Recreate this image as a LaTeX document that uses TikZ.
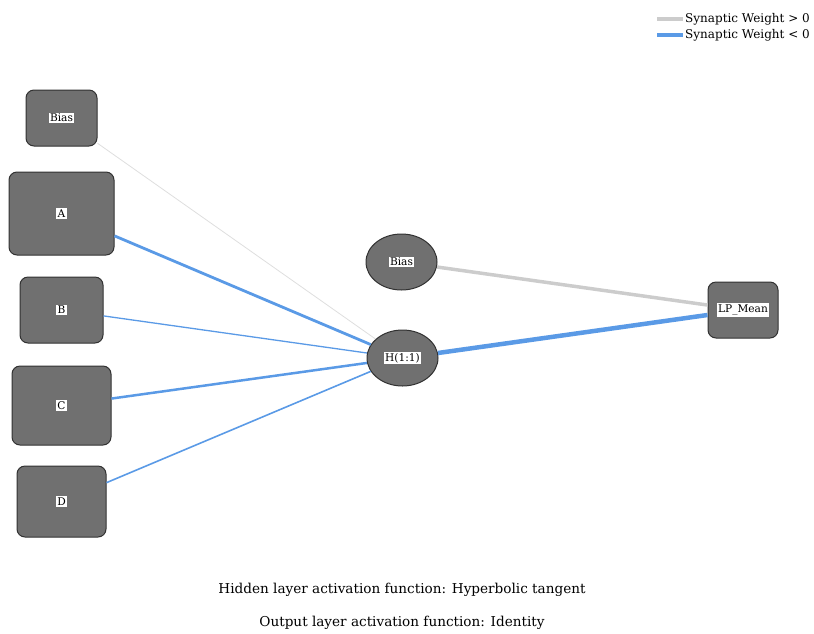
\documentclass[tikz,border=0pt]{standalone}
\usepackage{fontspec}
\setmainfont{DejaVu Serif}
\usetikzlibrary{shapes.geometric}
\definecolor{nodefill}{RGB}{112,112,112}
\definecolor{nodeedge}{RGB}{50,50,50}
\definecolor{posw}{RGB}{204,204,204}
\definecolor{negw}{RGB}{90,154,230}
\definecolor{faint}{RGB}{222,222,222}
\tikzset{
  x=1pt,y=-1pt,
  inbox/.style={draw=nodeedge,line width=1pt,fill=nodefill,rounded corners=8pt,inner sep=0pt},
  hidell/.style={draw=nodeedge,line width=1pt,fill=nodefill,ellipse,inner sep=0pt,minimum width=71pt,minimum height=56pt},
  lab/.style={fill=white,inner sep=1.5pt,font=\fontsize{10.6}{11}\selectfont},
  negline/.style={draw=negw},
  posline/.style={draw=posw},
  caption/.style={font=\fontsize{13.6}{15}\selectfont,inner sep=0pt},
  legtext/.style={font=\fontsize{12}{13}\selectfont,inner sep=0pt,anchor=west},
}
\begin{document}
\begin{tikzpicture}
\useasboundingbox (0,0) rectangle (814,633);
% nodes
\node[inbox,minimum width=71pt,minimum height=56pt] (bias) at (61.5,118) {};
\node[inbox,minimum width=105pt,minimum height=83pt] (a) at (61.5,213.5) {};
\node[inbox,minimum width=83pt,minimum height=66pt] (b) at (61.5,310) {};
\node[inbox,minimum width=99pt,minimum height=79pt] (c) at (61.5,405.5) {};
\node[inbox,minimum width=89pt,minimum height=71pt] (d) at (61.5,501.5) {};
\node[hidell] (hbias) at (401.5,262) {};
\node[hidell] (h) at (402.5,358) {};
\node[inbox,minimum width=70pt,minimum height=56pt] (lp) at (743,310) {};
% connectors
\draw[draw=faint,line width=0.8pt] (bias) -- (h);
\draw[negline,line width=2.8pt] (a) -- (h);
\draw[negline,line width=1.3pt] (b) -- (h);
\draw[negline,line width=2.5pt] (c) -- (h);
\draw[negline,line width=1.6pt] (d) -- (h);
\draw[posline,line width=3.5pt] (hbias) -- (lp);
\draw[negline,line width=4.5pt] (h) -- (lp);
% labels
\node[lab] (lbias) at (bias) {Bias};
\node[lab] (la) at (a) {A};
\node[lab] (lb) at (b) {B};
\node[lab] (lc) at (c) {C};
\node[lab] (ld) at (d) {D};
\node[lab] (lhbias) at (hbias) {Bias};
\node[lab] (lh) at (h) {H(1:1)};
\node[lab] (llp) at (lp) {LP\_Mean};
% legend
\coordinate (g1) at (657,19);
\coordinate (g2) at (683,19);
\coordinate (b1) at (657,35);
\coordinate (b2) at (683,35);
\draw[posline,line width=4pt] (g1) -- (g2);
\draw[negline,line width=4pt] (b1) -- (b2);
\node[legtext] (lg) at (685,19) {Synaptic Weight > 0};
\node[legtext] (lbl) at (685,35) {Synaptic Weight < 0};
% captions
\node[caption] (cap1) at (402,590) {Hidden layer activation function: Hyperbolic tangent};
\node[caption] (cap2) at (402,623) {Output layer activation function: Identity};
\end{tikzpicture}
\end{document}
